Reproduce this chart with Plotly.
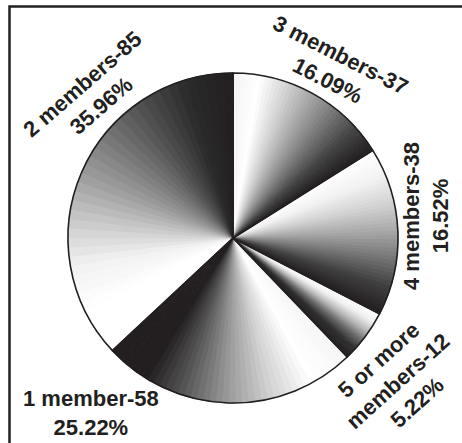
import plotly.graph_objects as go

# Household size breakdown
categories = ["3 members", "4 members", "5 or more members", "1 member", "2 members"]
counts = [37, 38, 12, 58, 85]
pct_labels = ["16.09%", "16.52%", "5.22%", "25.22%", "35.96%"]

INK = "#231f20"

# Grey ramps used to shade each wedge, clockwise from its leading edge
shade_stops = {
    "3 members": ["#f4f4f4", "#ffffff", "#d4d4d4", "#a6a6a6", "#767676", "#444444", "#231f20"],
    "4 members": ["#ffffff", "#f2f2f2", "#d2d2d2", "#a8a8a8", "#767676", "#404040", "#231f20"],
    "5 or more members": ["#ffffff", "#f0f0f0", "#b8b8b8", "#6a6a6a", "#2e2e2e", "#231f20"],
    "1 member": ["#f6f6f6", "#ffffff", "#d2d2d2", "#9c9c9c", "#5c5c5c", "#231f20", "#231f20"],
    "2 members": ["#ffffff", "#ffffff", "#f2f2f2", "#c8c8c8", "#9c9c9c", "#747474", "#4c4c4c", "#2a2a2a", "#231f20"],
}
STEPS = 40


def hex_to_rgb(h):
    h = h.lstrip("#")
    return tuple(int(h[i:i + 2], 16) for i in (0, 2, 4))


def ramp(stops, t):
    n = len(stops) - 1
    pos = t * n
    i = min(int(pos), n - 1)
    f = pos - i
    a, b = hex_to_rgb(stops[i]), hex_to_rgb(stops[i + 1])
    c = [round(a[k] + (b[k] - a[k]) * f) for k in range(3)]
    return "rgb({},{},{})".format(*c)


# Shading layer: each count split into equal thin wedges with a grey ramp
shade_vals, shade_cols = [], []
for cat, v in zip(categories, counts):
    for s in range(STEPS):
        shade_vals.append(v / STEPS)
        shade_cols.append(ramp(shade_stops[cat], (s + 0.5) / STEPS))

pie_domain = dict(x=[0.1472, 0.8615], y=[0.0903, 0.8352])

fig = go.Figure()
fig.add_trace(go.Pie(
    values=shade_vals,
    sort=False, direction="clockwise", rotation=0,
    marker=dict(colors=shade_cols, line=dict(color=shade_cols, width=1)),
    textinfo="none", hoverinfo="skip", showlegend=False,
    domain=pie_domain,
))
fig.add_trace(go.Pie(
    labels=categories, values=counts,
    sort=False, direction="clockwise", rotation=0,
    marker=dict(colors=["rgba(0,0,0,0)"] * len(counts), line=dict(color=INK, width=1.6)),
    textinfo="none", hovertemplate="%{label}: %{value}<extra></extra>",
    showlegend=False, domain=pie_domain,
))

# Outside labels placed around the rim, each tilted to follow its wedge
label_x = [334 / 462, 426 / 462, 398 / 462, 91 / 462, 92 / 462]
label_y = [1 - 68 / 443, 1 - 216 / 443, 1 - 381 / 443, 1 - 413 / 443, 1 - 95 / 443]
label_tilt = [27, -90, -42, 0, -41]

for i, name in enumerate(categories):
    if name == "5 or more members":
        first = "5 or more<br>members-{}".format(counts[i])
    else:
        first = "{}-{}".format(name, counts[i])
    fig.add_annotation(
        x=label_x[i], y=label_y[i], xref="paper", yref="paper",
        text="<b>{}<br>{}</b>".format(first, pct_labels[i]),
        showarrow=False, textangle=label_tilt[i],
        xanchor="center", yanchor="middle",
        font=dict(family="Liberation Sans", size=22, color=INK),
    )

# Frame around the chart
fig.add_shape(type="rect", xref="paper", yref="paper",
              x0=9.5 / 462, x1=1.05, y0=-0.05, y1=1 - 6.5 / 443,
              line=dict(color=INK, width=2.5), fillcolor="rgba(0,0,0,0)")

fig.update_layout(
    width=462, height=443,
    margin=dict(l=0, r=0, t=0, b=0),
    paper_bgcolor="white",
)

fig.write_html("out.html")
